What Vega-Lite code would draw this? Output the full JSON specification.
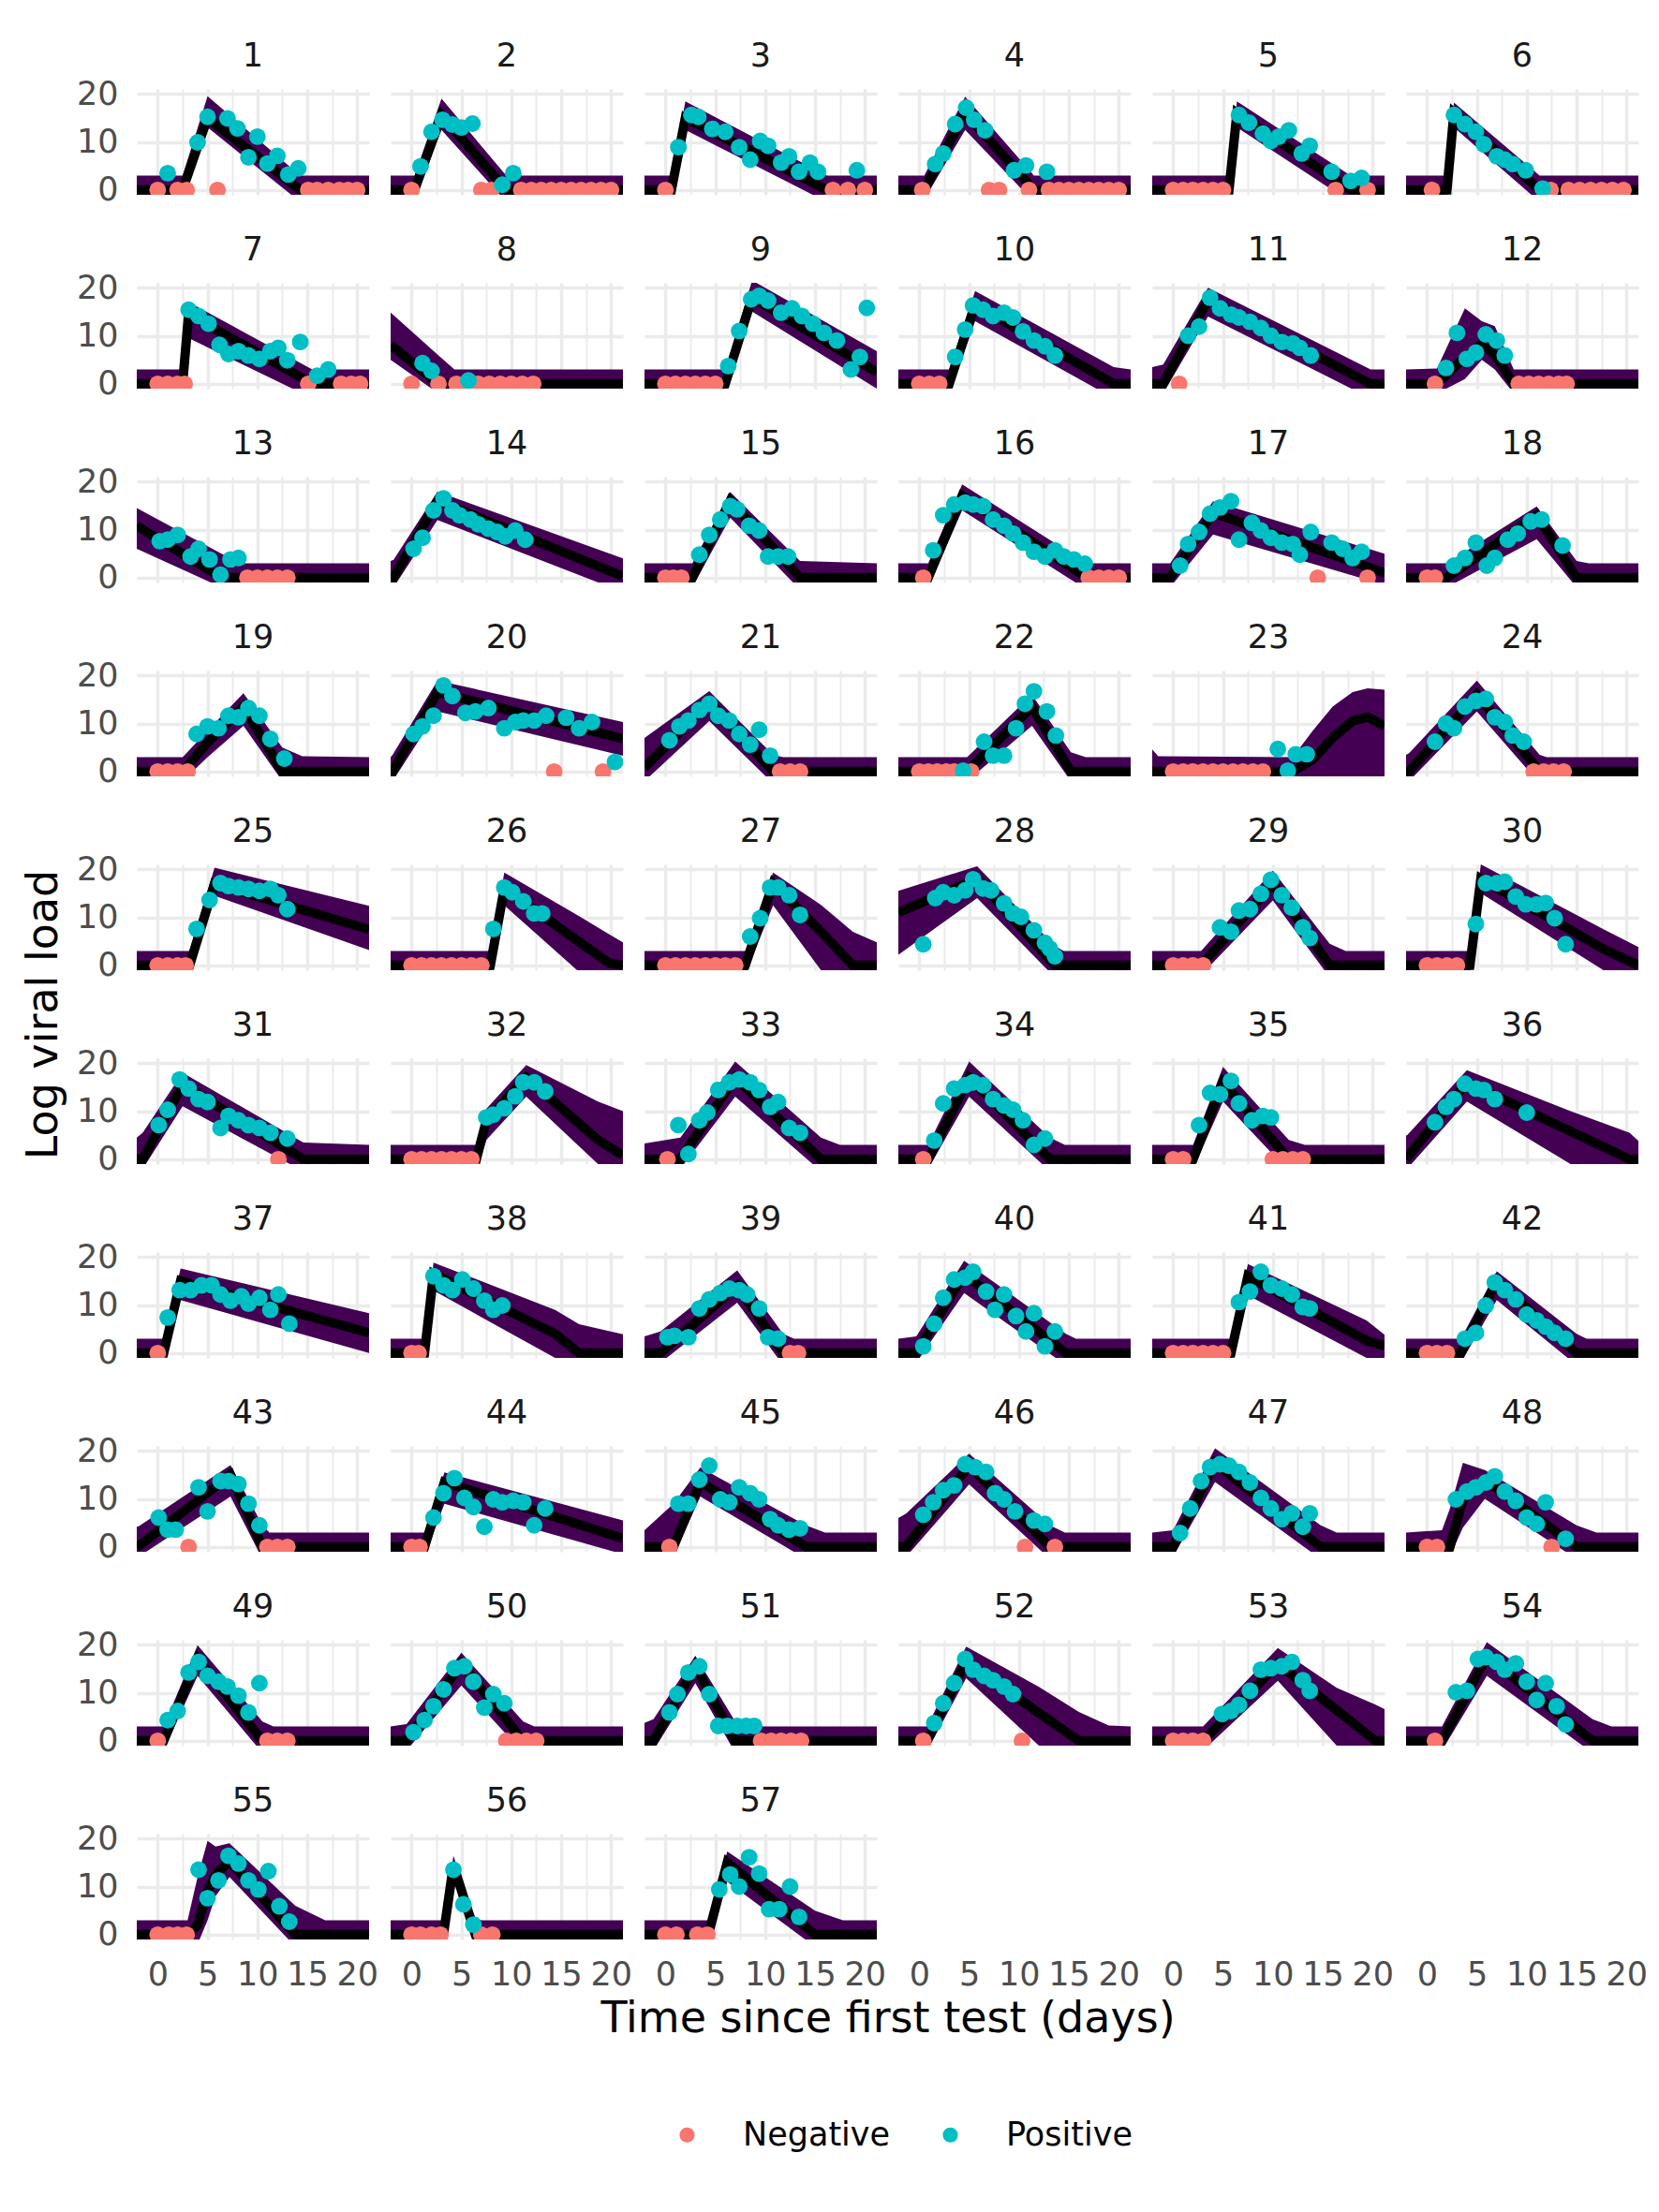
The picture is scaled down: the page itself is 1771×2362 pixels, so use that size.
{
"$schema": "https://vega.github.io/schema/vega-lite/v6.json",
"padding": {"left": 24, "top": 43, "right": 5, "bottom": 5},
"background": "white",
"data": {"values": [
{"p":1,"t":-2.1,"lo":-2,"m":0,"hi":3},{"p":1,"t":2.5,"lo":-2,"m":0,"hi":3},{"p":1,"t":5,"lo":13,"m":15,"hi":19.5},{"p":1,"t":14.3,"lo":-2.5,"m":0,"hi":3},{"p":1,"t":21.2,"lo":-2,"m":0,"hi":3},
{"p":2,"t":-2.1,"lo":-2,"m":0,"hi":3},{"p":2,"t":0.3,"lo":-2,"m":0,"hi":3},{"p":2,"t":3,"lo":12.5,"m":15.5,"hi":19},{"p":2,"t":9.5,"lo":-2.5,"m":0,"hi":3},{"p":2,"t":21.2,"lo":-2,"m":0,"hi":3},
{"p":3,"t":-2.1,"lo":-2,"m":0,"hi":3},{"p":3,"t":0.6,"lo":-2,"m":0,"hi":3},{"p":3,"t":2,"lo":12.5,"m":15,"hi":18.4},{"p":3,"t":16.2,"lo":-2.5,"m":0,"hi":3},{"p":3,"t":21.2,"lo":-2,"m":0,"hi":3},
{"p":4,"t":-2.1,"lo":-2,"m":0,"hi":3},{"p":4,"t":0.5,"lo":-2,"m":0,"hi":3},{"p":4,"t":4.6,"lo":12.5,"m":16,"hi":19.4},{"p":4,"t":11.5,"lo":-2.5,"m":0,"hi":3},{"p":4,"t":21.2,"lo":-2,"m":0,"hi":3},
{"p":5,"t":-2.1,"lo":-2,"m":0,"hi":3},{"p":5,"t":5.6,"lo":-2,"m":0,"hi":3},{"p":5,"t":6.4,"lo":13,"m":16,"hi":18.4},{"p":5,"t":17.8,"lo":-2.5,"m":0,"hi":3},{"p":5,"t":21.2,"lo":-2,"m":0,"hi":3},
{"p":6,"t":-2.1,"lo":-2,"m":0,"hi":3},{"p":6,"t":2,"lo":-2,"m":0,"hi":3},{"p":6,"t":2.7,"lo":13,"m":16,"hi":18.2},{"p":6,"t":11.3,"lo":-2.5,"m":0,"hi":3},{"p":6,"t":21.2,"lo":-2,"m":0,"hi":3},
{"p":7,"t":-2.1,"lo":-2,"m":0,"hi":3},{"p":7,"t":2.5,"lo":-2,"m":0,"hi":3},{"p":7,"t":3.1,"lo":9.5,"m":14.5,"hi":17},{"p":7,"t":15.5,"lo":-3,"m":0,"hi":3},{"p":7,"t":21.2,"lo":-2,"m":0,"hi":3},
{"p":8,"t":-2.1,"lo":5,"m":8.1,"hi":14.8},{"p":8,"t":2.7,"lo":-2,"m":0,"hi":5.9},{"p":8,"t":4.3,"lo":-2,"m":0,"hi":3},{"p":8,"t":21.2,"lo":-2,"m":0,"hi":3},
{"p":9,"t":-2.1,"lo":-2,"m":0,"hi":3},{"p":9,"t":6,"lo":-2,"m":0,"hi":3},{"p":9,"t":8.7,"lo":15,"m":18,"hi":21.5},{"p":9,"t":21.2,"lo":-1,"m":2.4,"hi":6.8},
{"p":10,"t":-2.1,"lo":-2,"m":0,"hi":3},{"p":10,"t":3,"lo":-2,"m":0,"hi":3},{"p":10,"t":5.6,"lo":13,"m":16.5,"hi":19.3},{"p":10,"t":19.5,"lo":-3,"m":0,"hi":3.5},{"p":10,"t":21.2,"lo":-2,"m":0,"hi":3},
{"p":11,"t":-2.1,"lo":-2,"m":0,"hi":3.5},{"p":11,"t":-1,"lo":-2,"m":0,"hi":4},{"p":11,"t":3.5,"lo":14,"m":17.5,"hi":20},{"p":11,"t":19.8,"lo":-3,"m":0,"hi":3},{"p":11,"t":21.2,"lo":-2,"m":0,"hi":3},
{"p":12,"t":-2.1,"lo":-2,"m":0,"hi":3},{"p":12,"t":1,"lo":-2,"m":0,"hi":3.2},{"p":12,"t":3.8,"lo":1,"m":5.5,"hi":15.7},{"p":12,"t":5.5,"lo":5,"m":8.3,"hi":13},{"p":12,"t":6.8,"lo":3,"m":6,"hi":12},{"p":12,"t":8.7,"lo":-2,"m":0,"hi":3},{"p":12,"t":21.2,"lo":-2,"m":0,"hi":3},
{"p":13,"t":-2.1,"lo":6,"m":10.8,"hi":14.5},{"p":13,"t":6.4,"lo":-2,"m":0,"hi":5},{"p":13,"t":8.4,"lo":-2,"m":0,"hi":3},{"p":13,"t":21.2,"lo":-2,"m":0,"hi":3},
{"p":14,"t":-2.1,"lo":-2,"m":0,"hi":3.5},{"p":14,"t":-1.8,"lo":-2,"m":0,"hi":3.7},{"p":14,"t":2.6,"lo":12,"m":16,"hi":17.9},{"p":14,"t":21.2,"lo":-3,"m":0.3,"hi":4},
{"p":15,"t":-2.1,"lo":-2,"m":0,"hi":3},{"p":15,"t":2.7,"lo":-2,"m":0,"hi":3},{"p":15,"t":6.5,"lo":12.5,"m":16,"hi":17.8},{"p":15,"t":13.5,"lo":-2.5,"m":0,"hi":3.5},{"p":15,"t":21.2,"lo":-2,"m":0,"hi":3},
{"p":16,"t":-2.1,"lo":-2,"m":0,"hi":3},{"p":16,"t":0.9,"lo":-2,"m":0,"hi":3},{"p":16,"t":4.3,"lo":14,"m":17,"hi":19.4},{"p":16,"t":16.8,"lo":-2.5,"m":0,"hi":3},{"p":16,"t":21.2,"lo":-2,"m":0,"hi":3},
{"p":17,"t":-2.1,"lo":-2,"m":0,"hi":3},{"p":17,"t":-0.3,"lo":-2,"m":0,"hi":3},{"p":17,"t":4,"lo":9,"m":13.5,"hi":15.9},{"p":17,"t":21.2,"lo":-1.5,"m":1,"hi":5},
{"p":18,"t":-2.1,"lo":-2,"m":0,"hi":3},{"p":18,"t":2,"lo":-2,"m":0,"hi":3},{"p":18,"t":11,"lo":8,"m":13,"hi":14.8},{"p":18,"t":15,"lo":-2,"m":0,"hi":3.5},{"p":18,"t":16.2,"lo":-2,"m":0,"hi":3},{"p":18,"t":21.2,"lo":-2,"m":0,"hi":3},
{"p":19,"t":-2.1,"lo":-2,"m":0,"hi":3},{"p":19,"t":2.5,"lo":-2,"m":0,"hi":3},{"p":19,"t":5,"lo":3,"m":6,"hi":8.5},{"p":19,"t":8.6,"lo":9.5,"m":13.5,"hi":16.3},{"p":19,"t":12.5,"lo":-2,"m":0,"hi":5},{"p":19,"t":14.5,"lo":-2,"m":0,"hi":3.2},{"p":19,"t":21.2,"lo":-2,"m":0,"hi":3},
{"p":20,"t":-2.1,"lo":-2,"m":0,"hi":3},{"p":20,"t":-1.9,"lo":-2,"m":0,"hi":3.5},{"p":20,"t":2.6,"lo":12.5,"m":16.5,"hi":18.9},{"p":20,"t":21.2,"lo":3.3,"m":6.8,"hi":10.3},
{"p":21,"t":-2.1,"lo":-2,"m":0.8,"hi":7},{"p":21,"t":4.4,"lo":10.5,"m":14.5,"hi":16.7},{"p":21,"t":10.8,"lo":-2.5,"m":0,"hi":3.5},{"p":21,"t":11.8,"lo":-2,"m":0,"hi":3},{"p":21,"t":21.2,"lo":-2,"m":0,"hi":3},
{"p":22,"t":-2.1,"lo":-2,"m":0,"hi":3},{"p":22,"t":4.8,"lo":-2,"m":0,"hi":3},{"p":22,"t":11.3,"lo":9.5,"m":13.5,"hi":16},{"p":22,"t":15.2,"lo":-2,"m":0,"hi":4},{"p":22,"t":16.7,"lo":-2,"m":0,"hi":3},{"p":22,"t":21.2,"lo":-2,"m":0,"hi":3},
{"p":23,"t":-2.1,"lo":-2,"m":0,"hi":4.6},{"p":23,"t":-1.5,"lo":-2,"m":0,"hi":3.2},{"p":23,"t":12,"lo":-2,"m":0,"hi":3},{"p":23,"t":14,"lo":-2,"m":2.5,"hi":8.5},{"p":23,"t":16,"lo":-2,"m":7,"hi":13.5},{"p":23,"t":18,"lo":-2,"m":10.5,"hi":16.5},{"p":23,"t":19.5,"lo":-2,"m":11.3,"hi":17.3},{"p":23,"t":21.2,"lo":-2,"m":9.5,"hi":17},
{"p":24,"t":-2.1,"lo":-2,"m":0,"hi":3.5},{"p":24,"t":-1.8,"lo":-2,"m":0,"hi":3.8},{"p":24,"t":5,"lo":12.5,"m":16,"hi":18.9},{"p":24,"t":11.3,"lo":-2.5,"m":0,"hi":3.5},{"p":24,"t":12,"lo":-2,"m":0,"hi":3},{"p":24,"t":21.2,"lo":-2,"m":0,"hi":3},
{"p":25,"t":-2.1,"lo":-2,"m":0,"hi":3},{"p":25,"t":3.2,"lo":-2,"m":0,"hi":3},{"p":25,"t":5.7,"lo":14.5,"m":17,"hi":20.3},{"p":25,"t":21.2,"lo":3.2,"m":7.5,"hi":12.4},
{"p":26,"t":-2.1,"lo":-2,"m":0,"hi":3},{"p":26,"t":7.9,"lo":-2,"m":0,"hi":3},{"p":26,"t":9.3,"lo":12.5,"m":16,"hi":19.3},{"p":26,"t":16.6,"lo":-1,"m":5.2,"hi":10.5},{"p":26,"t":19.8,"lo":-3,"m":0.5,"hi":6.5},{"p":26,"t":21.2,"lo":-3,"m":0,"hi":4.8},
{"p":27,"t":-2.1,"lo":-2,"m":0,"hi":3},{"p":27,"t":8,"lo":-2,"m":0,"hi":3},{"p":27,"t":10.8,"lo":12.5,"m":17,"hi":19.3},{"p":27,"t":15.6,"lo":-1,"m":7,"hi":12.6},{"p":27,"t":18.8,"lo":-3,"m":0,"hi":7},{"p":27,"t":21.2,"lo":-3,"m":0,"hi":4.8},
{"p":28,"t":-2.1,"lo":2.2,"m":11,"hi":15.5},{"p":28,"t":5.8,"lo":14,"m":18,"hi":20.6},{"p":28,"t":13.6,"lo":-2.5,"m":0,"hi":4},{"p":28,"t":14.5,"lo":-2,"m":0,"hi":3},{"p":28,"t":21.2,"lo":-2,"m":0,"hi":3},
{"p":29,"t":-2.1,"lo":-2,"m":0,"hi":3},{"p":29,"t":2.8,"lo":-2,"m":0,"hi":3},{"p":29,"t":10,"lo":13.5,"m":17,"hi":19.7},{"p":29,"t":15.7,"lo":-2.5,"m":0,"hi":4.5},{"p":29,"t":17.3,"lo":-2,"m":0,"hi":3},{"p":29,"t":21.2,"lo":-2,"m":0,"hi":3},
{"p":30,"t":-2.1,"lo":-2,"m":0,"hi":3},{"p":30,"t":4.3,"lo":-2,"m":0,"hi":3},{"p":30,"t":5.4,"lo":15,"m":18,"hi":21},{"p":30,"t":17.7,"lo":-1,"m":3.4,"hi":7.5},{"p":30,"t":21.2,"lo":-3,"m":0,"hi":3.8},
{"p":31,"t":-2.1,"lo":-2,"m":0,"hi":4.5},{"p":31,"t":-1.5,"lo":-2,"m":0,"hi":5.5},{"p":31,"t":2.5,"lo":11,"m":15.5,"hi":18},{"p":31,"t":14.6,"lo":-2.5,"m":0,"hi":3.5},{"p":31,"t":21.2,"lo":-2,"m":0,"hi":3},
{"p":32,"t":-2.1,"lo":-2,"m":0,"hi":3},{"p":32,"t":6.5,"lo":-2,"m":0,"hi":3},{"p":32,"t":7.5,"lo":4,"m":8,"hi":10.5},{"p":32,"t":11.5,"lo":13,"m":17,"hi":19.6},{"p":32,"t":18.7,"lo":-1,"m":4,"hi":12},{"p":32,"t":21.2,"lo":-3,"m":0.8,"hi":10},
{"p":33,"t":-2.1,"lo":-2,"m":0,"hi":3.3},{"p":33,"t":1.5,"lo":-2,"m":0,"hi":4.5},{"p":33,"t":7,"lo":13,"m":17,"hi":20.3},{"p":33,"t":15.6,"lo":-2.5,"m":0,"hi":4.5},{"p":33,"t":17.5,"lo":-2,"m":0,"hi":3},{"p":33,"t":21.2,"lo":-2,"m":0,"hi":3},
{"p":34,"t":-2.1,"lo":-2,"m":0,"hi":3},{"p":34,"t":0.9,"lo":-2,"m":0,"hi":3},{"p":34,"t":5,"lo":13,"m":17,"hi":20.3},{"p":34,"t":13.1,"lo":-2.5,"m":0,"hi":4.5},{"p":34,"t":14.6,"lo":-2,"m":0,"hi":3},{"p":34,"t":21.2,"lo":-2,"m":0,"hi":3},
{"p":35,"t":-2.1,"lo":-2,"m":0,"hi":3},{"p":35,"t":2,"lo":-2,"m":0,"hi":3},{"p":35,"t":5,"lo":12,"m":16,"hi":19.2},{"p":35,"t":11.6,"lo":-2.5,"m":0,"hi":4},{"p":35,"t":13.2,"lo":-2,"m":0,"hi":3},{"p":35,"t":21.2,"lo":-2,"m":0,"hi":3},
{"p":36,"t":-2.1,"lo":-2,"m":0,"hi":5},{"p":36,"t":-2,"lo":-2,"m":0.3,"hi":5},{"p":36,"t":4,"lo":12,"m":16,"hi":18.5},{"p":36,"t":14.4,"lo":-1,"m":5.8,"hi":10},{"p":36,"t":20.3,"lo":-3,"m":0,"hi":5.5},{"p":36,"t":21.2,"lo":-3,"m":0,"hi":3.8},
{"p":37,"t":-2.1,"lo":-2,"m":0,"hi":3},{"p":37,"t":0.6,"lo":-2,"m":0,"hi":3},{"p":37,"t":2.3,"lo":11,"m":15,"hi":17.6},{"p":37,"t":21.2,"lo":0,"m":4.2,"hi":8.3},
{"p":38,"t":-2.1,"lo":-2,"m":0,"hi":3},{"p":38,"t":1.3,"lo":-2,"m":0,"hi":3},{"p":38,"t":2.2,"lo":13,"m":16.5,"hi":18.8},{"p":38,"t":14.4,"lo":-1,"m":4,"hi":9},{"p":38,"t":16.8,"lo":-2,"m":0,"hi":6},{"p":38,"t":21.2,"lo":-2,"m":0,"hi":3.9},
{"p":39,"t":-2.1,"lo":-2,"m":0,"hi":3.5},{"p":39,"t":-0.5,"lo":-2,"m":0,"hi":4.5},{"p":39,"t":7.2,"lo":10.5,"m":14,"hi":17.2},{"p":39,"t":11.8,"lo":-2.5,"m":0,"hi":4},{"p":39,"t":12.9,"lo":-2,"m":0,"hi":3},{"p":39,"t":21.2,"lo":-2,"m":0,"hi":3},
{"p":40,"t":-2.1,"lo":-2,"m":0,"hi":3},{"p":40,"t":-0.3,"lo":-2,"m":0,"hi":3.5},{"p":40,"t":4.5,"lo":12.5,"m":16.5,"hi":19.2},{"p":40,"t":14.7,"lo":-2.5,"m":0,"hi":4},{"p":40,"t":15.7,"lo":-2,"m":0,"hi":3},{"p":40,"t":21.2,"lo":-2,"m":0,"hi":3},
{"p":41,"t":-2.1,"lo":-2,"m":0,"hi":3},{"p":41,"t":5.8,"lo":-2,"m":0,"hi":3},{"p":41,"t":7.5,"lo":12,"m":16,"hi":18.5},{"p":41,"t":19.4,"lo":-1,"m":2.6,"hi":6.8},{"p":41,"t":21.2,"lo":-2,"m":1.5,"hi":3.8},
{"p":42,"t":-2.1,"lo":-2,"m":0,"hi":3},{"p":42,"t":3.4,"lo":-2,"m":0,"hi":3},{"p":42,"t":7,"lo":11,"m":15,"hi":17},{"p":42,"t":15,"lo":-2.5,"m":0,"hi":4},{"p":42,"t":16,"lo":-2,"m":0,"hi":3},{"p":42,"t":21.2,"lo":-2,"m":0,"hi":3},
{"p":43,"t":-2.1,"lo":-2,"m":0,"hi":4.2},{"p":43,"t":-1.9,"lo":-2,"m":0.2,"hi":4.3},{"p":43,"t":7.3,"lo":10.5,"m":15,"hi":17},{"p":43,"t":10.5,"lo":-2.5,"m":0,"hi":4.5},{"p":43,"t":11.2,"lo":-2,"m":0,"hi":3},{"p":43,"t":21.2,"lo":-2,"m":0,"hi":3},
{"p":44,"t":-2.1,"lo":-2,"m":0,"hi":3},{"p":44,"t":1.3,"lo":-2,"m":0,"hi":3},{"p":44,"t":3.3,"lo":9,"m":13.5,"hi":15.5},{"p":44,"t":21.2,"lo":-1.5,"m":1.8,"hi":5.5},
{"p":45,"t":-2.1,"lo":-2,"m":0,"hi":3.5},{"p":45,"t":0.8,"lo":-2,"m":0,"hi":9},{"p":45,"t":3.5,"lo":10.5,"m":13.5,"hi":16.5},{"p":45,"t":14.1,"lo":-2.5,"m":0,"hi":4.5},{"p":45,"t":16,"lo":-2,"m":0,"hi":3},{"p":45,"t":21.2,"lo":-2,"m":0,"hi":3},
{"p":46,"t":-2.1,"lo":-2,"m":0,"hi":6},{"p":46,"t":-1.3,"lo":-2,"m":0.1,"hi":7},{"p":46,"t":5,"lo":13,"m":17,"hi":19.4},{"p":46,"t":13.1,"lo":-2.5,"m":0,"hi":4.5},{"p":46,"t":14.6,"lo":-2,"m":0,"hi":3},{"p":46,"t":21.2,"lo":-2,"m":0,"hi":3},
{"p":47,"t":-2.1,"lo":-2,"m":0,"hi":3},{"p":47,"t":0,"lo":-2,"m":0,"hi":3.5},{"p":47,"t":4.2,"lo":13.5,"m":17.5,"hi":20.5},{"p":47,"t":14.8,"lo":-2.5,"m":0,"hi":4.5},{"p":47,"t":16.4,"lo":-2,"m":0,"hi":3},{"p":47,"t":21.2,"lo":-2,"m":0,"hi":3},
{"p":48,"t":-2.1,"lo":-2,"m":0,"hi":3},{"p":48,"t":1.5,"lo":-2,"m":0,"hi":3.5},{"p":48,"t":2.3,"lo":-2,"m":0,"hi":8},{"p":48,"t":3.6,"lo":4,"m":10,"hi":17.5},{"p":48,"t":5.8,"lo":10,"m":14,"hi":16},{"p":48,"t":15,"lo":-2.5,"m":0,"hi":4.5},{"p":48,"t":17,"lo":-2,"m":0,"hi":3},{"p":48,"t":21.2,"lo":-2,"m":0,"hi":3},
{"p":49,"t":-2.1,"lo":-2,"m":0,"hi":3},{"p":49,"t":0.6,"lo":-2,"m":0,"hi":3},{"p":49,"t":4,"lo":13.5,"m":17,"hi":19.9},{"p":49,"t":10.5,"lo":-2.5,"m":0,"hi":4},{"p":49,"t":11.6,"lo":-2,"m":0,"hi":3},{"p":49,"t":21.2,"lo":-2,"m":0,"hi":3},
{"p":50,"t":-2.1,"lo":-2,"m":0,"hi":3},{"p":50,"t":-0.5,"lo":-2,"m":0,"hi":3.5},{"p":50,"t":5,"lo":11.5,"m":16,"hi":18.3},{"p":50,"t":11.2,"lo":-2.5,"m":0,"hi":4},{"p":50,"t":12.3,"lo":-2,"m":0,"hi":3},{"p":50,"t":21.2,"lo":-2,"m":0,"hi":3},
{"p":51,"t":-2.1,"lo":-2,"m":0,"hi":3.7},{"p":51,"t":-1.2,"lo":-2,"m":0,"hi":4.5},{"p":51,"t":3,"lo":12,"m":15.5,"hi":17.7},{"p":51,"t":7,"lo":-2.5,"m":0,"hi":4},{"p":51,"t":8,"lo":-2,"m":0,"hi":3},{"p":51,"t":21.2,"lo":-2,"m":0,"hi":3},
{"p":52,"t":-2.1,"lo":-2,"m":0,"hi":3},{"p":52,"t":0.8,"lo":-2,"m":0,"hi":3},{"p":52,"t":4.7,"lo":13,"m":16.5,"hi":19.6},{"p":52,"t":12,"lo":-1,"m":5.8,"hi":11.2},{"p":52,"t":16,"lo":-2.5,"m":0,"hi":6},{"p":52,"t":19,"lo":-2,"m":0,"hi":3.2},{"p":52,"t":21.2,"lo":-2,"m":0,"hi":3},
{"p":53,"t":-2.1,"lo":-2,"m":0,"hi":3},{"p":53,"t":3,"lo":-2,"m":0,"hi":3},{"p":53,"t":10.5,"lo":12.5,"m":16,"hi":19.3},{"p":53,"t":16.4,"lo":-1,"m":6.4,"hi":11},{"p":53,"t":20.3,"lo":-2.5,"m":0,"hi":7.5},{"p":53,"t":21.2,"lo":-2.5,"m":0,"hi":6.6},
{"p":54,"t":-2.1,"lo":-2,"m":0,"hi":3},{"p":54,"t":1.5,"lo":-2,"m":0,"hi":3},{"p":54,"t":6,"lo":13.5,"m":17.5,"hi":20.5},{"p":54,"t":16.6,"lo":-2.5,"m":0,"hi":4.5},{"p":54,"t":18.5,"lo":-2,"m":0,"hi":3},{"p":54,"t":21.2,"lo":-2,"m":0,"hi":3},
{"p":55,"t":-2.1,"lo":-2,"m":0,"hi":3},{"p":55,"t":3,"lo":-2,"m":0,"hi":3},{"p":55,"t":4,"lo":-2,"m":2,"hi":12},{"p":55,"t":5,"lo":3,"m":9,"hi":19.5},{"p":55,"t":5.8,"lo":8,"m":12.5,"hi":18.3},{"p":55,"t":7.2,"lo":12,"m":15.3,"hi":19},{"p":55,"t":13.8,"lo":-2.5,"m":0,"hi":6},{"p":55,"t":16.8,"lo":-2,"m":0,"hi":3},{"p":55,"t":21.2,"lo":-2,"m":0,"hi":3},
{"p":56,"t":-2.1,"lo":-2,"m":0,"hi":3},{"p":56,"t":3.2,"lo":-2,"m":0,"hi":3},{"p":56,"t":4.2,"lo":12,"m":14.5,"hi":16.4},{"p":56,"t":6.4,"lo":-2,"m":0,"hi":3.5},{"p":56,"t":7,"lo":-2,"m":0,"hi":3},{"p":56,"t":21.2,"lo":-2,"m":0,"hi":3},
{"p":57,"t":-2.1,"lo":-2,"m":0,"hi":3},{"p":57,"t":4.3,"lo":-2,"m":0,"hi":3},{"p":57,"t":6.2,"lo":11,"m":15,"hi":17.3},{"p":57,"t":15,"lo":-2.5,"m":0,"hi":5},{"p":57,"t":17.8,"lo":-2,"m":0,"hi":3},{"p":57,"t":21.2,"lo":-2,"m":0,"hi":3},

{"p":1,"t":0,"v":0,"r":"Negative"},{"p":1,"t":2,"v":0,"r":"Negative"},{"p":1,"t":2.9,"v":0,"r":"Negative"},{"p":1,"t":6,"v":0,"r":"Negative"},{"p":1,"t":15.1,"v":0,"r":"Negative"},{"p":1,"t":16,"v":0,"r":"Negative"},{"p":1,"t":17.1,"v":0,"r":"Negative"},{"p":1,"t":18.2,"v":0,"r":"Negative"},{"p":1,"t":19.1,"v":0,"r":"Negative"},{"p":1,"t":20,"v":0,"r":"Negative"},
{"p":1,"t":1,"v":3.5,"r":"Positive"},{"p":1,"t":4,"v":9.9,"r":"Positive"},{"p":1,"t":5,"v":15.2,"r":"Positive"},{"p":1,"t":7,"v":14.9,"r":"Positive"},{"p":1,"t":8,"v":12.8,"r":"Positive"},{"p":1,"t":9.1,"v":6.8,"r":"Positive"},{"p":1,"t":10,"v":11.1,"r":"Positive"},{"p":1,"t":11,"v":5.5,"r":"Positive"},{"p":1,"t":12,"v":7.1,"r":"Positive"},{"p":1,"t":13.1,"v":3.2,"r":"Positive"},{"p":1,"t":14.1,"v":4.5,"r":"Positive"},
{"p":2,"t":0,"v":0,"r":"Negative"},{"p":2,"t":7,"v":0,"r":"Negative"},{"p":2,"t":8,"v":0,"r":"Negative"},{"p":2,"t":11,"v":0,"r":"Negative"},{"p":2,"t":12,"v":0,"r":"Negative"},{"p":2,"t":13,"v":0,"r":"Negative"},{"p":2,"t":14,"v":0,"r":"Negative"},{"p":2,"t":15,"v":0,"r":"Negative"},{"p":2,"t":16,"v":0,"r":"Negative"},{"p":2,"t":17,"v":0,"r":"Negative"},{"p":2,"t":18,"v":0,"r":"Negative"},{"p":2,"t":19,"v":0,"r":"Negative"},{"p":2,"t":20,"v":0,"r":"Negative"},
{"p":2,"t":0.9,"v":4.9,"r":"Positive"},{"p":2,"t":2,"v":12.1,"r":"Positive"},{"p":2,"t":3.1,"v":14.6,"r":"Positive"},{"p":2,"t":4.1,"v":13.6,"r":"Positive"},{"p":2,"t":5,"v":13,"r":"Positive"},{"p":2,"t":6.1,"v":13.8,"r":"Positive"},{"p":2,"t":9.1,"v":1.1,"r":"Positive"},{"p":2,"t":10.2,"v":3.5,"r":"Positive"},
{"p":3,"t":0,"v":0,"r":"Negative"},{"p":3,"t":16.8,"v":0,"r":"Negative"},{"p":3,"t":18.3,"v":0,"r":"Negative"},{"p":3,"t":20,"v":0,"r":"Negative"},
{"p":3,"t":1.3,"v":8.9,"r":"Positive"},{"p":3,"t":2.6,"v":15.6,"r":"Positive"},{"p":3,"t":3.3,"v":15.2,"r":"Positive"},{"p":3,"t":4.7,"v":12.7,"r":"Positive"},{"p":3,"t":6,"v":12.1,"r":"Positive"},{"p":3,"t":7.4,"v":8.9,"r":"Positive"},{"p":3,"t":8.5,"v":6.3,"r":"Positive"},{"p":3,"t":9.5,"v":10.2,"r":"Positive"},{"p":3,"t":10.3,"v":9.2,"r":"Positive"},{"p":3,"t":11.6,"v":5.7,"r":"Positive"},{"p":3,"t":12.4,"v":7,"r":"Positive"},{"p":3,"t":13.4,"v":3.8,"r":"Positive"},{"p":3,"t":14.5,"v":5.7,"r":"Positive"},{"p":3,"t":15.3,"v":3.8,"r":"Positive"},{"p":3,"t":19.2,"v":4.1,"r":"Positive"},
{"p":4,"t":0.3,"v":0,"r":"Negative"},{"p":4,"t":7,"v":0,"r":"Negative"},{"p":4,"t":8,"v":0,"r":"Negative"},{"p":4,"t":11,"v":0,"r":"Negative"},{"p":4,"t":13,"v":0,"r":"Negative"},{"p":4,"t":14,"v":0,"r":"Negative"},{"p":4,"t":15,"v":0,"r":"Negative"},{"p":4,"t":16,"v":0,"r":"Negative"},{"p":4,"t":17,"v":0,"r":"Negative"},{"p":4,"t":18,"v":0,"r":"Negative"},{"p":4,"t":19,"v":0,"r":"Negative"},{"p":4,"t":20,"v":0,"r":"Negative"},
{"p":4,"t":1.6,"v":5.4,"r":"Positive"},{"p":4,"t":2.4,"v":7.6,"r":"Positive"},{"p":4,"t":3.6,"v":13.7,"r":"Positive"},{"p":4,"t":4.7,"v":17.1,"r":"Positive"},{"p":4,"t":5.5,"v":14.6,"r":"Positive"},{"p":4,"t":6.6,"v":12.4,"r":"Positive"},{"p":4,"t":9.5,"v":4.1,"r":"Positive"},{"p":4,"t":10.7,"v":5.1,"r":"Positive"},{"p":4,"t":12.8,"v":3.8,"r":"Positive"},
{"p":5,"t":0,"v":0,"r":"Negative"},{"p":5,"t":1,"v":0,"r":"Negative"},{"p":5,"t":2,"v":0,"r":"Negative"},{"p":5,"t":3,"v":0,"r":"Negative"},{"p":5,"t":4,"v":0,"r":"Negative"},{"p":5,"t":5,"v":0,"r":"Negative"},{"p":5,"t":16.3,"v":0,"r":"Negative"},{"p":5,"t":19.5,"v":0,"r":"Negative"},
{"p":5,"t":6.6,"v":15.6,"r":"Positive"},{"p":5,"t":7.6,"v":14,"r":"Positive"},{"p":5,"t":9,"v":11.7,"r":"Positive"},{"p":5,"t":9.8,"v":10.2,"r":"Positive"},{"p":5,"t":10.6,"v":11.1,"r":"Positive"},{"p":5,"t":11.6,"v":12.4,"r":"Positive"},{"p":5,"t":12.9,"v":7.6,"r":"Positive"},{"p":5,"t":13.7,"v":9.2,"r":"Positive"},{"p":5,"t":15.9,"v":3.8,"r":"Positive"},{"p":5,"t":17.8,"v":1.9,"r":"Positive"},{"p":5,"t":18.9,"v":2.5,"r":"Positive"},
{"p":6,"t":0.5,"v":0,"r":"Negative"},{"p":6,"t":12.4,"v":0,"r":"Negative"},{"p":6,"t":14.2,"v":0,"r":"Negative"},{"p":6,"t":15.3,"v":0,"r":"Negative"},{"p":6,"t":16.4,"v":0,"r":"Negative"},{"p":6,"t":17.5,"v":0,"r":"Negative"},{"p":6,"t":18.6,"v":0,"r":"Negative"},{"p":6,"t":19.7,"v":0,"r":"Negative"},
{"p":6,"t":2.7,"v":15.6,"r":"Positive"},{"p":6,"t":3.8,"v":13.7,"r":"Positive"},{"p":6,"t":4.9,"v":12.1,"r":"Positive"},{"p":6,"t":5.7,"v":9.5,"r":"Positive"},{"p":6,"t":7,"v":7,"r":"Positive"},{"p":6,"t":7.8,"v":6.3,"r":"Positive"},{"p":6,"t":8.6,"v":5.4,"r":"Positive"},{"p":6,"t":9.9,"v":4.1,"r":"Positive"},{"p":6,"t":11.6,"v":0.3,"r":"Positive"},
{"p":7,"t":0,"v":0,"r":"Negative"},{"p":7,"t":1,"v":0,"r":"Negative"},{"p":7,"t":2,"v":0,"r":"Negative"},{"p":7,"t":2.7,"v":0,"r":"Negative"},{"p":7,"t":15.1,"v":0,"r":"Negative"},{"p":7,"t":18.4,"v":0,"r":"Negative"},{"p":7,"t":19.4,"v":0,"r":"Negative"},{"p":7,"t":20.3,"v":0,"r":"Negative"},
{"p":7,"t":3.1,"v":15.4,"r":"Positive"},{"p":7,"t":4.1,"v":14.1,"r":"Positive"},{"p":7,"t":5.1,"v":12.5,"r":"Positive"},{"p":7,"t":6.2,"v":8.1,"r":"Positive"},{"p":7,"t":7.1,"v":6.2,"r":"Positive"},{"p":7,"t":8.1,"v":6.8,"r":"Positive"},{"p":7,"t":9.1,"v":5.9,"r":"Positive"},{"p":7,"t":10.2,"v":5.2,"r":"Positive"},{"p":7,"t":11.3,"v":6.8,"r":"Positive"},{"p":7,"t":12.1,"v":7.5,"r":"Positive"},{"p":7,"t":13,"v":4.9,"r":"Positive"},{"p":7,"t":14.3,"v":8.7,"r":"Positive"},{"p":7,"t":16,"v":1.7,"r":"Positive"},{"p":7,"t":17.1,"v":3,"r":"Positive"},
{"p":8,"t":0,"v":0,"r":"Negative"},{"p":8,"t":2.7,"v":0,"r":"Negative"},{"p":8,"t":4.5,"v":0,"r":"Negative"},{"p":8,"t":5.6,"v":0,"r":"Negative"},{"p":8,"t":6.7,"v":0,"r":"Negative"},{"p":8,"t":7.8,"v":0,"r":"Negative"},{"p":8,"t":8.9,"v":0,"r":"Negative"},{"p":8,"t":10,"v":0,"r":"Negative"},{"p":8,"t":11.1,"v":0,"r":"Negative"},{"p":8,"t":12.2,"v":0,"r":"Negative"},
{"p":8,"t":1.1,"v":4.3,"r":"Positive"},{"p":8,"t":2,"v":2.7,"r":"Positive"},{"p":8,"t":5.7,"v":0.7,"r":"Positive"},
{"p":9,"t":0,"v":0,"r":"Negative"},{"p":9,"t":1,"v":0,"r":"Negative"},{"p":9,"t":2,"v":0,"r":"Negative"},{"p":9,"t":3,"v":0,"r":"Negative"},{"p":9,"t":4,"v":0,"r":"Negative"},{"p":9,"t":5,"v":0,"r":"Negative"},
{"p":9,"t":6.3,"v":3.7,"r":"Positive"},{"p":9,"t":7.4,"v":11,"r":"Positive"},{"p":9,"t":8.6,"v":17.6,"r":"Positive"},{"p":9,"t":9.4,"v":18.3,"r":"Positive"},{"p":9,"t":10.3,"v":17.3,"r":"Positive"},{"p":9,"t":11.6,"v":14.8,"r":"Positive"},{"p":9,"t":12.7,"v":15.7,"r":"Positive"},{"p":9,"t":13.7,"v":14.1,"r":"Positive"},{"p":9,"t":14.8,"v":12.5,"r":"Positive"},{"p":9,"t":15.9,"v":10.6,"r":"Positive"},{"p":9,"t":17.2,"v":9,"r":"Positive"},{"p":9,"t":18.6,"v":3,"r":"Positive"},{"p":9,"t":19.5,"v":5.6,"r":"Positive"},{"p":9,"t":20.2,"v":15.8,"r":"Positive"},
{"p":10,"t":0,"v":0,"r":"Negative"},{"p":10,"t":1,"v":0,"r":"Negative"},{"p":10,"t":2,"v":0,"r":"Negative"},
{"p":10,"t":3.6,"v":5.6,"r":"Positive"},{"p":10,"t":4.6,"v":11.3,"r":"Positive"},{"p":10,"t":5.4,"v":16.3,"r":"Positive"},{"p":10,"t":6.4,"v":15.4,"r":"Positive"},{"p":10,"t":7.4,"v":14.1,"r":"Positive"},{"p":10,"t":8.5,"v":14.8,"r":"Positive"},{"p":10,"t":9.4,"v":13.8,"r":"Positive"},{"p":10,"t":10.4,"v":10.9,"r":"Positive"},{"p":10,"t":11.5,"v":9,"r":"Positive"},{"p":10,"t":12.6,"v":7.8,"r":"Positive"},{"p":10,"t":13.6,"v":5.9,"r":"Positive"},
{"p":11,"t":0.6,"v":0,"r":"Negative"},
{"p":11,"t":1.5,"v":10,"r":"Positive"},{"p":11,"t":2.6,"v":11.9,"r":"Positive"},{"p":11,"t":3.7,"v":17.9,"r":"Positive"},{"p":11,"t":4.7,"v":15.7,"r":"Positive"},{"p":11,"t":5.8,"v":14.4,"r":"Positive"},{"p":11,"t":6.6,"v":13.8,"r":"Positive"},{"p":11,"t":7.7,"v":12.9,"r":"Positive"},{"p":11,"t":8.8,"v":11.6,"r":"Positive"},{"p":11,"t":9.8,"v":10,"r":"Positive"},{"p":11,"t":10.9,"v":8.7,"r":"Positive"},{"p":11,"t":12,"v":8.4,"r":"Positive"},{"p":11,"t":12.7,"v":7.5,"r":"Positive"},{"p":11,"t":13.8,"v":5.9,"r":"Positive"},
{"p":12,"t":0.8,"v":0,"r":"Negative"},{"p":12,"t":9.2,"v":0,"r":"Negative"},{"p":12,"t":10.2,"v":0,"r":"Negative"},{"p":12,"t":11.2,"v":0,"r":"Negative"},{"p":12,"t":12.2,"v":0,"r":"Negative"},{"p":12,"t":13.2,"v":0,"r":"Negative"},{"p":12,"t":14,"v":0,"r":"Negative"},
{"p":12,"t":1.9,"v":3.3,"r":"Positive"},{"p":12,"t":3,"v":10.6,"r":"Positive"},{"p":12,"t":4,"v":5.2,"r":"Positive"},{"p":12,"t":4.9,"v":6.5,"r":"Positive"},{"p":12,"t":5.9,"v":10.3,"r":"Positive"},{"p":12,"t":7,"v":9,"r":"Positive"},{"p":12,"t":7.8,"v":5.9,"r":"Positive"},
{"p":13,"t":9,"v":0,"r":"Negative"},{"p":13,"t":10,"v":0,"r":"Negative"},{"p":13,"t":11,"v":0,"r":"Negative"},{"p":13,"t":12,"v":0,"r":"Negative"},{"p":13,"t":13,"v":0,"r":"Negative"},
{"p":13,"t":0.2,"v":7.6,"r":"Positive"},{"p":13,"t":1,"v":7.9,"r":"Positive"},{"p":13,"t":2,"v":8.9,"r":"Positive"},{"p":13,"t":3.3,"v":4.4,"r":"Positive"},{"p":13,"t":4.1,"v":6,"r":"Positive"},{"p":13,"t":5.2,"v":3.8,"r":"Positive"},{"p":13,"t":6.3,"v":0.6,"r":"Positive"},{"p":13,"t":7.3,"v":3.8,"r":"Positive"},{"p":13,"t":8.1,"v":4.1,"r":"Positive"},
{"p":14,"t":0.2,"v":6,"r":"Positive"},{"p":14,"t":1.1,"v":8.3,"r":"Positive"},{"p":14,"t":2.2,"v":14,"r":"Positive"},{"p":14,"t":3.2,"v":16.5,"r":"Positive"},{"p":14,"t":4.1,"v":14,"r":"Positive"},{"p":14,"t":4.8,"v":13,"r":"Positive"},{"p":14,"t":5.9,"v":12.1,"r":"Positive"},{"p":14,"t":6.7,"v":11.1,"r":"Positive"},{"p":14,"t":7.7,"v":10.2,"r":"Positive"},{"p":14,"t":8.6,"v":9.5,"r":"Positive"},{"p":14,"t":9.4,"v":8.6,"r":"Positive"},{"p":14,"t":10.4,"v":9.8,"r":"Positive"},{"p":14,"t":11.4,"v":7.9,"r":"Positive"},
{"p":15,"t":0,"v":0,"r":"Negative"},{"p":15,"t":0.8,"v":0,"r":"Negative"},{"p":15,"t":1.6,"v":0,"r":"Negative"},
{"p":15,"t":3.4,"v":4.8,"r":"Positive"},{"p":15,"t":4.4,"v":8.9,"r":"Positive"},{"p":15,"t":5.5,"v":12.1,"r":"Positive"},{"p":15,"t":6.5,"v":14.9,"r":"Positive"},{"p":15,"t":7.2,"v":14.2,"r":"Positive"},{"p":15,"t":8.4,"v":10.8,"r":"Positive"},{"p":15,"t":9.4,"v":9.8,"r":"Positive"},{"p":15,"t":10.3,"v":4.4,"r":"Positive"},{"p":15,"t":11.3,"v":4.4,"r":"Positive"},{"p":15,"t":12.3,"v":4.4,"r":"Positive"},
{"p":16,"t":0.4,"v":0,"r":"Negative"},{"p":16,"t":17,"v":0,"r":"Negative"},{"p":16,"t":18,"v":0,"r":"Negative"},{"p":16,"t":19,"v":0,"r":"Negative"},{"p":16,"t":20,"v":0,"r":"Negative"},
{"p":16,"t":1.4,"v":5.7,"r":"Positive"},{"p":16,"t":2.4,"v":13,"r":"Positive"},{"p":16,"t":3.5,"v":15.2,"r":"Positive"},{"p":16,"t":4.6,"v":15.6,"r":"Positive"},{"p":16,"t":5.4,"v":15.2,"r":"Positive"},{"p":16,"t":6.4,"v":14.9,"r":"Positive"},{"p":16,"t":7.4,"v":12.1,"r":"Positive"},{"p":16,"t":8.5,"v":10.8,"r":"Positive"},{"p":16,"t":9.4,"v":9.2,"r":"Positive"},{"p":16,"t":10.4,"v":7.3,"r":"Positive"},{"p":16,"t":11.5,"v":5.4,"r":"Positive"},{"p":16,"t":12.6,"v":4.4,"r":"Positive"},{"p":16,"t":13.6,"v":5.7,"r":"Positive"},{"p":16,"t":14.5,"v":4.4,"r":"Positive"},{"p":16,"t":15.5,"v":3.8,"r":"Positive"},{"p":16,"t":16.6,"v":2.9,"r":"Positive"},
{"p":17,"t":14.5,"v":0,"r":"Negative"},{"p":17,"t":19.5,"v":0,"r":"Negative"},
{"p":17,"t":0.7,"v":2.5,"r":"Positive"},{"p":17,"t":1.5,"v":7,"r":"Positive"},{"p":17,"t":2.6,"v":9.5,"r":"Positive"},{"p":17,"t":3.7,"v":13.3,"r":"Positive"},{"p":17,"t":4.7,"v":14.6,"r":"Positive"},{"p":17,"t":5.8,"v":15.9,"r":"Positive"},{"p":17,"t":6.6,"v":7.9,"r":"Positive"},{"p":17,"t":7.9,"v":11.4,"r":"Positive"},{"p":17,"t":8.8,"v":9.8,"r":"Positive"},{"p":17,"t":9.8,"v":8.3,"r":"Positive"},{"p":17,"t":10.9,"v":7.3,"r":"Positive"},{"p":17,"t":12,"v":7,"r":"Positive"},{"p":17,"t":12.7,"v":4.8,"r":"Positive"},{"p":17,"t":13.8,"v":9.5,"r":"Positive"},{"p":17,"t":15.9,"v":7.3,"r":"Positive"},{"p":17,"t":17,"v":6,"r":"Positive"},{"p":17,"t":18,"v":4.1,"r":"Positive"},{"p":17,"t":18.9,"v":5.4,"r":"Positive"},
{"p":18,"t":0,"v":0,"r":"Negative"},{"p":18,"t":0.8,"v":0,"r":"Negative"},
{"p":18,"t":2.7,"v":2.5,"r":"Positive"},{"p":18,"t":3.8,"v":4.1,"r":"Positive"},{"p":18,"t":4.9,"v":7.3,"r":"Positive"},{"p":18,"t":6,"v":2.5,"r":"Positive"},{"p":18,"t":6.8,"v":4.1,"r":"Positive"},{"p":18,"t":8.1,"v":7.9,"r":"Positive"},{"p":18,"t":9.1,"v":9.2,"r":"Positive"},{"p":18,"t":10.4,"v":11.7,"r":"Positive"},{"p":18,"t":11.5,"v":12.1,"r":"Positive"},{"p":18,"t":13.6,"v":6.7,"r":"Positive"},
{"p":19,"t":0,"v":0,"r":"Negative"},{"p":19,"t":1,"v":0,"r":"Negative"},{"p":19,"t":2,"v":0,"r":"Negative"},{"p":19,"t":3,"v":0,"r":"Negative"},
{"p":19,"t":3.9,"v":7.8,"r":"Positive"},{"p":19,"t":5,"v":9.4,"r":"Positive"},{"p":19,"t":6.1,"v":9,"r":"Positive"},{"p":19,"t":7.1,"v":11.6,"r":"Positive"},{"p":19,"t":8.1,"v":11.3,"r":"Positive"},{"p":19,"t":9.1,"v":13.2,"r":"Positive"},{"p":19,"t":10.2,"v":11.6,"r":"Positive"},{"p":19,"t":11.3,"v":6.8,"r":"Positive"},{"p":19,"t":12.7,"v":2.7,"r":"Positive"},
{"p":20,"t":14.3,"v":0,"r":"Negative"},{"p":20,"t":19.2,"v":0,"r":"Negative"},
{"p":20,"t":0.2,"v":7.8,"r":"Positive"},{"p":20,"t":1.1,"v":9.4,"r":"Positive"},{"p":20,"t":2.2,"v":11.6,"r":"Positive"},{"p":20,"t":3.2,"v":17.9,"r":"Positive"},{"p":20,"t":4.1,"v":15.7,"r":"Positive"},{"p":20,"t":5.4,"v":12.2,"r":"Positive"},{"p":20,"t":6.4,"v":12.5,"r":"Positive"},{"p":20,"t":7.7,"v":13.2,"r":"Positive"},{"p":20,"t":9.3,"v":9,"r":"Positive"},{"p":20,"t":10.4,"v":10.3,"r":"Positive"},{"p":20,"t":11.2,"v":10.6,"r":"Positive"},{"p":20,"t":12.3,"v":10.6,"r":"Positive"},{"p":20,"t":13.5,"v":11.6,"r":"Positive"},{"p":20,"t":15.5,"v":11.2,"r":"Positive"},{"p":20,"t":16.8,"v":9,"r":"Positive"},{"p":20,"t":18.1,"v":10.3,"r":"Positive"},{"p":20,"t":20.4,"v":2,"r":"Positive"},
{"p":21,"t":11.5,"v":0,"r":"Negative"},{"p":21,"t":12.5,"v":0,"r":"Negative"},{"p":21,"t":13.5,"v":0,"r":"Negative"},
{"p":21,"t":0.4,"v":6.5,"r":"Positive"},{"p":21,"t":1.4,"v":9.4,"r":"Positive"},{"p":21,"t":2.3,"v":10.6,"r":"Positive"},{"p":21,"t":3.4,"v":12.8,"r":"Positive"},{"p":21,"t":4.4,"v":14.1,"r":"Positive"},{"p":21,"t":5.3,"v":11.6,"r":"Positive"},{"p":21,"t":6.4,"v":10.6,"r":"Positive"},{"p":21,"t":7.4,"v":7.8,"r":"Positive"},{"p":21,"t":8.5,"v":5.6,"r":"Positive"},{"p":21,"t":9.4,"v":8.7,"r":"Positive"},{"p":21,"t":10.5,"v":3.3,"r":"Positive"},
{"p":22,"t":0,"v":0,"r":"Negative"},{"p":22,"t":0.9,"v":0,"r":"Negative"},{"p":22,"t":1.8,"v":0,"r":"Negative"},{"p":22,"t":2.7,"v":0,"r":"Negative"},{"p":22,"t":3.5,"v":0,"r":"Negative"},{"p":22,"t":5.2,"v":0,"r":"Negative"},
{"p":22,"t":4.4,"v":0.2,"r":"Positive"},{"p":22,"t":6.5,"v":6.2,"r":"Positive"},{"p":22,"t":7.4,"v":3.3,"r":"Positive"},{"p":22,"t":8.5,"v":3.3,"r":"Positive"},{"p":22,"t":9.7,"v":9,"r":"Positive"},{"p":22,"t":10.6,"v":14.1,"r":"Positive"},{"p":22,"t":11.5,"v":16.7,"r":"Positive"},{"p":22,"t":12.8,"v":12.5,"r":"Positive"},{"p":22,"t":13.7,"v":7.5,"r":"Positive"},
{"p":23,"t":0,"v":0,"r":"Negative"},{"p":23,"t":1,"v":0,"r":"Negative"},{"p":23,"t":2,"v":0,"r":"Negative"},{"p":23,"t":3,"v":0,"r":"Negative"},{"p":23,"t":4,"v":0,"r":"Negative"},{"p":23,"t":5,"v":0,"r":"Negative"},{"p":23,"t":6,"v":0,"r":"Negative"},{"p":23,"t":7,"v":0,"r":"Negative"},{"p":23,"t":8,"v":0,"r":"Negative"},{"p":23,"t":9,"v":0,"r":"Negative"},
{"p":23,"t":10.5,"v":4.7,"r":"Positive"},{"p":23,"t":11.5,"v":0.2,"r":"Positive"},{"p":23,"t":12.3,"v":3.6,"r":"Positive"},{"p":23,"t":13.4,"v":3.6,"r":"Positive"},
{"p":24,"t":10.7,"v":0,"r":"Negative"},{"p":24,"t":11.7,"v":0,"r":"Negative"},{"p":24,"t":12.7,"v":0,"r":"Negative"},{"p":24,"t":13.7,"v":0,"r":"Negative"},
{"p":24,"t":0.8,"v":6.2,"r":"Positive"},{"p":24,"t":1.9,"v":10,"r":"Positive"},{"p":24,"t":2.7,"v":9,"r":"Positive"},{"p":24,"t":3.8,"v":13.5,"r":"Positive"},{"p":24,"t":4.9,"v":14.7,"r":"Positive"},{"p":24,"t":5.9,"v":15.1,"r":"Positive"},{"p":24,"t":6.8,"v":11.3,"r":"Positive"},{"p":24,"t":7.8,"v":10.3,"r":"Positive"},{"p":24,"t":8.6,"v":7.5,"r":"Positive"},{"p":24,"t":9.7,"v":6.2,"r":"Positive"},
{"p":25,"t":0,"v":0,"r":"Negative"},{"p":25,"t":1,"v":0,"r":"Negative"},{"p":25,"t":2,"v":0,"r":"Negative"},{"p":25,"t":2.8,"v":0,"r":"Negative"},
{"p":25,"t":3.9,"v":7.6,"r":"Positive"},{"p":25,"t":5.2,"v":13.6,"r":"Positive"},{"p":25,"t":6.3,"v":17.1,"r":"Positive"},{"p":25,"t":7.1,"v":16.5,"r":"Positive"},{"p":25,"t":8.1,"v":16.2,"r":"Positive"},{"p":25,"t":9.1,"v":15.9,"r":"Positive"},{"p":25,"t":10.2,"v":15.5,"r":"Positive"},{"p":25,"t":11.3,"v":15.9,"r":"Positive"},{"p":25,"t":12.1,"v":14.6,"r":"Positive"},{"p":25,"t":13,"v":11.7,"r":"Positive"},
{"p":26,"t":0,"v":0,"r":"Negative"},{"p":26,"t":1,"v":0,"r":"Negative"},{"p":26,"t":2,"v":0,"r":"Negative"},{"p":26,"t":3,"v":0,"r":"Negative"},{"p":26,"t":4,"v":0,"r":"Negative"},{"p":26,"t":5,"v":0,"r":"Negative"},{"p":26,"t":6,"v":0,"r":"Negative"},{"p":26,"t":7,"v":0,"r":"Negative"},
{"p":26,"t":8.2,"v":7.6,"r":"Positive"},{"p":26,"t":9.3,"v":16.2,"r":"Positive"},{"p":26,"t":10.1,"v":15.2,"r":"Positive"},{"p":26,"t":11.2,"v":13.3,"r":"Positive"},{"p":26,"t":12.3,"v":10.8,"r":"Positive"},{"p":26,"t":13.1,"v":10.8,"r":"Positive"},
{"p":27,"t":0,"v":0,"r":"Negative"},{"p":27,"t":1,"v":0,"r":"Negative"},{"p":27,"t":2,"v":0,"r":"Negative"},{"p":27,"t":3,"v":0,"r":"Negative"},{"p":27,"t":4,"v":0,"r":"Negative"},{"p":27,"t":5,"v":0,"r":"Negative"},{"p":27,"t":6,"v":0,"r":"Negative"},{"p":27,"t":7,"v":0,"r":"Negative"},
{"p":27,"t":8.5,"v":6,"r":"Positive"},{"p":27,"t":9.5,"v":9.8,"r":"Positive"},{"p":27,"t":10.5,"v":16.2,"r":"Positive"},{"p":27,"t":11.3,"v":16.2,"r":"Positive"},{"p":27,"t":12.4,"v":14.6,"r":"Positive"},{"p":27,"t":13.5,"v":10.5,"r":"Positive"},
{"p":28,"t":0.4,"v":4.4,"r":"Positive"},{"p":28,"t":1.6,"v":14,"r":"Positive"},{"p":28,"t":2.4,"v":15.2,"r":"Positive"},{"p":28,"t":3.5,"v":14.6,"r":"Positive"},{"p":28,"t":4.6,"v":15.6,"r":"Positive"},{"p":28,"t":5.4,"v":17.9,"r":"Positive"},{"p":28,"t":6.4,"v":16,"r":"Positive"},{"p":28,"t":7.2,"v":15.6,"r":"Positive"},{"p":28,"t":8.5,"v":12.9,"r":"Positive"},{"p":28,"t":9.4,"v":10.8,"r":"Positive"},{"p":28,"t":10.2,"v":10.1,"r":"Positive"},{"p":28,"t":11.5,"v":7.3,"r":"Positive"},{"p":28,"t":12.6,"v":4.7,"r":"Positive"},{"p":28,"t":13.1,"v":3.5,"r":"Positive"},{"p":28,"t":13.6,"v":1.9,"r":"Positive"},
{"p":29,"t":0,"v":0,"r":"Negative"},{"p":29,"t":1,"v":0,"r":"Negative"},{"p":29,"t":2,"v":0,"r":"Negative"},{"p":29,"t":3,"v":0,"r":"Negative"},
{"p":29,"t":4.7,"v":7.9,"r":"Positive"},{"p":29,"t":5.8,"v":7,"r":"Positive"},{"p":29,"t":6.6,"v":11.4,"r":"Positive"},{"p":29,"t":7.7,"v":11.7,"r":"Positive"},{"p":29,"t":8.8,"v":14.9,"r":"Positive"},{"p":29,"t":9.8,"v":17.8,"r":"Positive"},{"p":29,"t":10.9,"v":14.6,"r":"Positive"},{"p":29,"t":11.9,"v":12,"r":"Positive"},{"p":29,"t":13,"v":7.9,"r":"Positive"},{"p":29,"t":13.7,"v":5.7,"r":"Positive"},
{"p":30,"t":0,"v":0,"r":"Negative"},{"p":30,"t":1,"v":0,"r":"Negative"},{"p":30,"t":2,"v":0,"r":"Negative"},{"p":30,"t":3,"v":0,"r":"Negative"},
{"p":30,"t":4.9,"v":8.6,"r":"Positive"},{"p":30,"t":5.9,"v":17.1,"r":"Positive"},{"p":30,"t":7,"v":17.1,"r":"Positive"},{"p":30,"t":7.8,"v":17.4,"r":"Positive"},{"p":30,"t":8.9,"v":14.3,"r":"Positive"},{"p":30,"t":9.9,"v":12.7,"r":"Positive"},{"p":30,"t":11,"v":12.7,"r":"Positive"},{"p":30,"t":11.9,"v":13,"r":"Positive"},{"p":30,"t":12.8,"v":9.8,"r":"Positive"},{"p":30,"t":13.9,"v":4.4,"r":"Positive"},
{"p":31,"t":12.1,"v":0,"r":"Negative"},
{"p":31,"t":0.1,"v":7.1,"r":"Positive"},{"p":31,"t":1,"v":10.3,"r":"Positive"},{"p":31,"t":2.2,"v":16.6,"r":"Positive"},{"p":31,"t":3.1,"v":14.7,"r":"Positive"},{"p":31,"t":4.1,"v":12.5,"r":"Positive"},{"p":31,"t":5,"v":11.9,"r":"Positive"},{"p":31,"t":6.3,"v":6.5,"r":"Positive"},{"p":31,"t":7.1,"v":9,"r":"Positive"},{"p":31,"t":8.1,"v":8.1,"r":"Positive"},{"p":31,"t":9.1,"v":7.1,"r":"Positive"},{"p":31,"t":10.2,"v":6.5,"r":"Positive"},{"p":31,"t":11.3,"v":5.5,"r":"Positive"},{"p":31,"t":13,"v":4.3,"r":"Positive"},
{"p":32,"t":0,"v":0,"r":"Negative"},{"p":32,"t":1,"v":0,"r":"Negative"},{"p":32,"t":2,"v":0,"r":"Negative"},{"p":32,"t":3,"v":0,"r":"Negative"},{"p":32,"t":4,"v":0,"r":"Negative"},{"p":32,"t":5,"v":0,"r":"Negative"},{"p":32,"t":6,"v":0,"r":"Negative"},
{"p":32,"t":7.5,"v":8.7,"r":"Positive"},{"p":32,"t":8.2,"v":9.3,"r":"Positive"},{"p":32,"t":9.3,"v":10.6,"r":"Positive"},{"p":32,"t":10.4,"v":13.1,"r":"Positive"},{"p":32,"t":11.2,"v":16,"r":"Positive"},{"p":32,"t":12.3,"v":16,"r":"Positive"},{"p":32,"t":13.4,"v":14.1,"r":"Positive"},
{"p":33,"t":0.2,"v":0,"r":"Negative"},
{"p":33,"t":1.3,"v":7.1,"r":"Positive"},{"p":33,"t":2.3,"v":1.1,"r":"Positive"},{"p":33,"t":3.4,"v":8.1,"r":"Positive"},{"p":33,"t":4.2,"v":9.7,"r":"Positive"},{"p":33,"t":5.3,"v":14.4,"r":"Positive"},{"p":33,"t":6.4,"v":16,"r":"Positive"},{"p":33,"t":7.4,"v":16.6,"r":"Positive"},{"p":33,"t":8.5,"v":16,"r":"Positive"},{"p":33,"t":9.4,"v":14.4,"r":"Positive"},{"p":33,"t":10.5,"v":10.9,"r":"Positive"},{"p":33,"t":11.3,"v":11.9,"r":"Positive"},{"p":33,"t":12.4,"v":6.5,"r":"Positive"},{"p":33,"t":13.5,"v":5.5,"r":"Positive"},
{"p":34,"t":0.4,"v":0,"r":"Negative"},
{"p":34,"t":1.5,"v":3.9,"r":"Positive"},{"p":34,"t":2.4,"v":11.6,"r":"Positive"},{"p":34,"t":3.5,"v":14.7,"r":"Positive"},{"p":34,"t":4.6,"v":15.4,"r":"Positive"},{"p":34,"t":5.4,"v":16,"r":"Positive"},{"p":34,"t":6.4,"v":15.4,"r":"Positive"},{"p":34,"t":7.4,"v":12.5,"r":"Positive"},{"p":34,"t":8.5,"v":11.2,"r":"Positive"},{"p":34,"t":9.4,"v":10.3,"r":"Positive"},{"p":34,"t":10.4,"v":8.1,"r":"Positive"},{"p":34,"t":11.5,"v":3,"r":"Positive"},{"p":34,"t":12.6,"v":4.3,"r":"Positive"},
{"p":35,"t":0,"v":0,"r":"Negative"},{"p":35,"t":1,"v":0,"r":"Negative"},{"p":35,"t":10,"v":0,"r":"Negative"},{"p":35,"t":11,"v":0,"r":"Negative"},{"p":35,"t":12,"v":0,"r":"Negative"},{"p":35,"t":13,"v":0,"r":"Negative"},
{"p":35,"t":2.6,"v":7.1,"r":"Positive"},{"p":35,"t":3.7,"v":13.8,"r":"Positive"},{"p":35,"t":4.7,"v":13.5,"r":"Positive"},{"p":35,"t":5.8,"v":16.3,"r":"Positive"},{"p":35,"t":6.6,"v":11.6,"r":"Positive"},{"p":35,"t":7.9,"v":8.1,"r":"Positive"},{"p":35,"t":9,"v":9,"r":"Positive"},{"p":35,"t":9.8,"v":8.7,"r":"Positive"},
{"p":36,"t":0.8,"v":7.7,"r":"Positive"},{"p":36,"t":1.9,"v":10.9,"r":"Positive"},{"p":36,"t":2.7,"v":12.5,"r":"Positive"},{"p":36,"t":3.8,"v":15.7,"r":"Positive"},{"p":36,"t":4.9,"v":14.7,"r":"Positive"},{"p":36,"t":5.7,"v":14.4,"r":"Positive"},{"p":36,"t":6.8,"v":12.5,"r":"Positive"},{"p":36,"t":10,"v":9.7,"r":"Positive"},
{"p":37,"t":0,"v":0,"r":"Negative"},
{"p":37,"t":1,"v":7.4,"r":"Positive"},{"p":37,"t":2.2,"v":13.1,"r":"Positive"},{"p":37,"t":3.3,"v":13.1,"r":"Positive"},{"p":37,"t":4.4,"v":14.1,"r":"Positive"},{"p":37,"t":5.4,"v":14.1,"r":"Positive"},{"p":37,"t":6.3,"v":12.2,"r":"Positive"},{"p":37,"t":7.3,"v":10.9,"r":"Positive"},{"p":37,"t":8.4,"v":11.8,"r":"Positive"},{"p":37,"t":9.1,"v":10.3,"r":"Positive"},{"p":37,"t":10.2,"v":11.5,"r":"Positive"},{"p":37,"t":11.3,"v":9,"r":"Positive"},{"p":37,"t":12.1,"v":12.2,"r":"Positive"},{"p":37,"t":13.2,"v":6.1,"r":"Positive"},
{"p":38,"t":0,"v":0,"r":"Negative"},{"p":38,"t":0.7,"v":0,"r":"Negative"},
{"p":38,"t":2.2,"v":16,"r":"Positive"},{"p":38,"t":3.2,"v":14.1,"r":"Positive"},{"p":38,"t":4.1,"v":13.1,"r":"Positive"},{"p":38,"t":5.1,"v":15.3,"r":"Positive"},{"p":38,"t":6.2,"v":13.4,"r":"Positive"},{"p":38,"t":7.3,"v":10.9,"r":"Positive"},{"p":38,"t":8.2,"v":9,"r":"Positive"},{"p":38,"t":9.1,"v":9.9,"r":"Positive"},
{"p":39,"t":12.5,"v":0,"r":"Negative"},{"p":39,"t":13.3,"v":0,"r":"Negative"},
{"p":39,"t":0.2,"v":3.3,"r":"Positive"},{"p":39,"t":0.9,"v":3.6,"r":"Positive"},{"p":39,"t":2.3,"v":3.3,"r":"Positive"},{"p":39,"t":3.4,"v":9.3,"r":"Positive"},{"p":39,"t":4.4,"v":11.2,"r":"Positive"},{"p":39,"t":5.5,"v":12.5,"r":"Positive"},{"p":39,"t":6.4,"v":13.4,"r":"Positive"},{"p":39,"t":7.4,"v":13.1,"r":"Positive"},{"p":39,"t":8.2,"v":12.2,"r":"Positive"},{"p":39,"t":9.4,"v":9.3,"r":"Positive"},{"p":39,"t":10.3,"v":3.3,"r":"Positive"},{"p":39,"t":11.3,"v":3,"r":"Positive"},
{"p":40,"t":0.4,"v":1.4,"r":"Positive"},{"p":40,"t":1.5,"v":6.1,"r":"Positive"},{"p":40,"t":2.4,"v":11.5,"r":"Positive"},{"p":40,"t":3.5,"v":15.3,"r":"Positive"},{"p":40,"t":4.6,"v":15.7,"r":"Positive"},{"p":40,"t":5.4,"v":16.9,"r":"Positive"},{"p":40,"t":6.7,"v":12.8,"r":"Positive"},{"p":40,"t":7.6,"v":9,"r":"Positive"},{"p":40,"t":8.5,"v":12.2,"r":"Positive"},{"p":40,"t":9.7,"v":7.7,"r":"Positive"},{"p":40,"t":10.7,"v":4.5,"r":"Positive"},{"p":40,"t":11.5,"v":8.3,"r":"Positive"},{"p":40,"t":12.6,"v":1.4,"r":"Positive"},{"p":40,"t":13.6,"v":4.5,"r":"Positive"},
{"p":41,"t":0,"v":0,"r":"Negative"},{"p":41,"t":1,"v":0,"r":"Negative"},{"p":41,"t":2,"v":0,"r":"Negative"},{"p":41,"t":3,"v":0,"r":"Negative"},{"p":41,"t":4,"v":0,"r":"Negative"},{"p":41,"t":5,"v":0,"r":"Negative"},
{"p":41,"t":6.6,"v":10.6,"r":"Positive"},{"p":41,"t":7.7,"v":12.8,"r":"Positive"},{"p":41,"t":8.8,"v":16.9,"r":"Positive"},{"p":41,"t":9.8,"v":14.1,"r":"Positive"},{"p":41,"t":10.9,"v":13.4,"r":"Positive"},{"p":41,"t":11.9,"v":12.2,"r":"Positive"},{"p":41,"t":13,"v":9.6,"r":"Positive"},{"p":41,"t":13.7,"v":9.3,"r":"Positive"},
{"p":42,"t":0,"v":0,"r":"Negative"},{"p":42,"t":1,"v":0,"r":"Negative"},{"p":42,"t":2,"v":0,"r":"Negative"},
{"p":42,"t":3.8,"v":3,"r":"Positive"},{"p":42,"t":4.9,"v":4.2,"r":"Positive"},{"p":42,"t":5.9,"v":9.9,"r":"Positive"},{"p":42,"t":6.8,"v":14.7,"r":"Positive"},{"p":42,"t":7.8,"v":13.1,"r":"Positive"},{"p":42,"t":8.9,"v":11.2,"r":"Positive"},{"p":42,"t":10,"v":8,"r":"Positive"},{"p":42,"t":11,"v":6.8,"r":"Positive"},{"p":42,"t":11.9,"v":5.5,"r":"Positive"},{"p":42,"t":12.8,"v":4.2,"r":"Positive"},{"p":42,"t":13.9,"v":3,"r":"Positive"},
{"p":43,"t":3.1,"v":0,"r":"Negative"},{"p":43,"t":11,"v":0,"r":"Negative"},{"p":43,"t":12,"v":0,"r":"Negative"},{"p":43,"t":13,"v":0,"r":"Negative"},
{"p":43,"t":0.1,"v":6.1,"r":"Positive"},{"p":43,"t":1,"v":3.6,"r":"Positive"},{"p":43,"t":1.8,"v":3.6,"r":"Positive"},{"p":43,"t":4.1,"v":12.4,"r":"Positive"},{"p":43,"t":5,"v":7.4,"r":"Positive"},{"p":43,"t":6.3,"v":13.7,"r":"Positive"},{"p":43,"t":7.1,"v":13.7,"r":"Positive"},{"p":43,"t":8.1,"v":13.1,"r":"Positive"},{"p":43,"t":9.1,"v":9,"r":"Positive"},{"p":43,"t":10.2,"v":4.5,"r":"Positive"},
{"p":44,"t":0,"v":0,"r":"Negative"},{"p":44,"t":0.8,"v":0,"r":"Negative"},
{"p":44,"t":2.2,"v":6.1,"r":"Positive"},{"p":44,"t":3.2,"v":11.2,"r":"Positive"},{"p":44,"t":4.3,"v":14.3,"r":"Positive"},{"p":44,"t":5.3,"v":10.2,"r":"Positive"},{"p":44,"t":6.2,"v":8.3,"r":"Positive"},{"p":44,"t":7.3,"v":4.2,"r":"Positive"},{"p":44,"t":8.2,"v":9.9,"r":"Positive"},{"p":44,"t":9.1,"v":9.3,"r":"Positive"},{"p":44,"t":10.2,"v":9.6,"r":"Positive"},{"p":44,"t":11.2,"v":9.3,"r":"Positive"},{"p":44,"t":12.3,"v":4.5,"r":"Positive"},{"p":44,"t":13.4,"v":8,"r":"Positive"},
{"p":45,"t":0.4,"v":0,"r":"Negative"},
{"p":45,"t":1.3,"v":9,"r":"Positive"},{"p":45,"t":2.3,"v":9,"r":"Positive"},{"p":45,"t":3.4,"v":14,"r":"Positive"},{"p":45,"t":4.4,"v":16.9,"r":"Positive"},{"p":45,"t":5.5,"v":9.9,"r":"Positive"},{"p":45,"t":6.4,"v":9.3,"r":"Positive"},{"p":45,"t":7.4,"v":12.4,"r":"Positive"},{"p":45,"t":8.5,"v":11.2,"r":"Positive"},{"p":45,"t":9.4,"v":9.9,"r":"Positive"},{"p":45,"t":10.5,"v":5.8,"r":"Positive"},{"p":45,"t":11.3,"v":4.5,"r":"Positive"},{"p":45,"t":12.4,"v":3.6,"r":"Positive"},{"p":45,"t":13.5,"v":3.9,"r":"Positive"},
{"p":46,"t":10.6,"v":0,"r":"Negative"},{"p":46,"t":13.6,"v":0,"r":"Negative"},
{"p":46,"t":0.4,"v":6.7,"r":"Positive"},{"p":46,"t":1.4,"v":9.3,"r":"Positive"},{"p":46,"t":2.4,"v":11.8,"r":"Positive"},{"p":46,"t":3.5,"v":12.8,"r":"Positive"},{"p":46,"t":4.6,"v":17.2,"r":"Positive"},{"p":46,"t":5.6,"v":16.6,"r":"Positive"},{"p":46,"t":6.7,"v":15.6,"r":"Positive"},{"p":46,"t":7.6,"v":11.2,"r":"Positive"},{"p":46,"t":8.5,"v":9.9,"r":"Positive"},{"p":46,"t":9.6,"v":7.4,"r":"Positive"},{"p":46,"t":11.5,"v":5.5,"r":"Positive"},{"p":46,"t":12.6,"v":4.8,"r":"Positive"},
{"p":47,"t":0.7,"v":2.9,"r":"Positive"},{"p":47,"t":1.7,"v":8,"r":"Positive"},{"p":47,"t":2.8,"v":13.7,"r":"Positive"},{"p":47,"t":3.7,"v":16.6,"r":"Positive"},{"p":47,"t":4.7,"v":17.2,"r":"Positive"},{"p":47,"t":5.6,"v":16.9,"r":"Positive"},{"p":47,"t":6.6,"v":15.6,"r":"Positive"},{"p":47,"t":7.7,"v":13.4,"r":"Positive"},{"p":47,"t":8.8,"v":10.2,"r":"Positive"},{"p":47,"t":9.8,"v":8,"r":"Positive"},{"p":47,"t":10.9,"v":5.8,"r":"Positive"},{"p":47,"t":11.9,"v":7,"r":"Positive"},{"p":47,"t":13,"v":4.2,"r":"Positive"},{"p":47,"t":13.7,"v":7,"r":"Positive"},
{"p":48,"t":0,"v":0,"r":"Negative"},{"p":48,"t":1,"v":0,"r":"Negative"},{"p":48,"t":12.5,"v":0,"r":"Negative"},
{"p":48,"t":2.9,"v":9.9,"r":"Positive"},{"p":48,"t":4,"v":11.5,"r":"Positive"},{"p":48,"t":4.9,"v":12.4,"r":"Positive"},{"p":48,"t":5.9,"v":13.4,"r":"Positive"},{"p":48,"t":6.8,"v":14.7,"r":"Positive"},{"p":48,"t":7.8,"v":11.5,"r":"Positive"},{"p":48,"t":8.9,"v":9.6,"r":"Positive"},{"p":48,"t":10,"v":6.1,"r":"Positive"},{"p":48,"t":11,"v":4.8,"r":"Positive"},{"p":48,"t":11.9,"v":9.3,"r":"Positive"},{"p":48,"t":13.9,"v":1.7,"r":"Positive"},
{"p":49,"t":0,"v":0,"r":"Negative"},{"p":49,"t":11,"v":0,"r":"Negative"},{"p":49,"t":12,"v":0,"r":"Negative"},{"p":49,"t":13,"v":0,"r":"Negative"},
{"p":49,"t":1,"v":4.3,"r":"Positive"},{"p":49,"t":2,"v":6.2,"r":"Positive"},{"p":49,"t":3.1,"v":14.2,"r":"Positive"},{"p":49,"t":4.1,"v":16.4,"r":"Positive"},{"p":49,"t":5,"v":13.5,"r":"Positive"},{"p":49,"t":6.1,"v":12.3,"r":"Positive"},{"p":49,"t":7,"v":11.3,"r":"Positive"},{"p":49,"t":8.1,"v":9.4,"r":"Positive"},{"p":49,"t":9.1,"v":5.9,"r":"Positive"},{"p":49,"t":10.2,"v":12,"r":"Positive"},
{"p":50,"t":9.5,"v":0,"r":"Negative"},{"p":50,"t":10.5,"v":0,"r":"Negative"},{"p":50,"t":11.5,"v":0,"r":"Negative"},{"p":50,"t":12.5,"v":0,"r":"Negative"},
{"p":50,"t":0.2,"v":1.8,"r":"Positive"},{"p":50,"t":1.3,"v":4.3,"r":"Positive"},{"p":50,"t":2.2,"v":7.2,"r":"Positive"},{"p":50,"t":3.2,"v":10.7,"r":"Positive"},{"p":50,"t":4.3,"v":15.1,"r":"Positive"},{"p":50,"t":5.3,"v":15.5,"r":"Positive"},{"p":50,"t":6.2,"v":12.3,"r":"Positive"},{"p":50,"t":7.3,"v":6.9,"r":"Positive"},{"p":50,"t":8.2,"v":9.7,"r":"Positive"},{"p":50,"t":9.3,"v":7.8,"r":"Positive"},
{"p":51,"t":9.6,"v":0,"r":"Negative"},{"p":51,"t":10.6,"v":0,"r":"Negative"},{"p":51,"t":11.6,"v":0,"r":"Negative"},{"p":51,"t":12.6,"v":0,"r":"Negative"},{"p":51,"t":13.6,"v":0,"r":"Negative"},
{"p":51,"t":0.4,"v":5.9,"r":"Positive"},{"p":51,"t":1.2,"v":9.7,"r":"Positive"},{"p":51,"t":2.3,"v":14.2,"r":"Positive"},{"p":51,"t":3.4,"v":15.5,"r":"Positive"},{"p":51,"t":4.4,"v":9.7,"r":"Positive"},{"p":51,"t":5.3,"v":3.1,"r":"Positive"},{"p":51,"t":6.2,"v":3.1,"r":"Positive"},{"p":51,"t":7.2,"v":3.1,"r":"Positive"},{"p":51,"t":8.1,"v":3.1,"r":"Positive"},{"p":51,"t":8.9,"v":3.1,"r":"Positive"},
{"p":52,"t":0.4,"v":0,"r":"Negative"},{"p":52,"t":10.3,"v":0,"r":"Negative"},
{"p":52,"t":1.5,"v":3.7,"r":"Positive"},{"p":52,"t":2.4,"v":7.8,"r":"Positive"},{"p":52,"t":3.5,"v":12,"r":"Positive"},{"p":52,"t":4.6,"v":17,"r":"Positive"},{"p":52,"t":5.4,"v":14.8,"r":"Positive"},{"p":52,"t":6.5,"v":13.5,"r":"Positive"},{"p":52,"t":7.4,"v":12.6,"r":"Positive"},{"p":52,"t":8.5,"v":11.3,"r":"Positive"},{"p":52,"t":9.4,"v":9.7,"r":"Positive"},
{"p":53,"t":0,"v":0,"r":"Negative"},{"p":53,"t":1,"v":0,"r":"Negative"},{"p":53,"t":2,"v":0,"r":"Negative"},{"p":53,"t":3,"v":0,"r":"Negative"},
{"p":53,"t":4.9,"v":5.6,"r":"Positive"},{"p":53,"t":5.8,"v":6.2,"r":"Positive"},{"p":53,"t":6.6,"v":7.5,"r":"Positive"},{"p":53,"t":7.7,"v":10.4,"r":"Positive"},{"p":53,"t":8.8,"v":14.8,"r":"Positive"},{"p":53,"t":9.8,"v":15.1,"r":"Positive"},{"p":53,"t":10.9,"v":15.5,"r":"Positive"},{"p":53,"t":11.9,"v":16.4,"r":"Positive"},{"p":53,"t":13,"v":12.6,"r":"Positive"},{"p":53,"t":13.7,"v":10.4,"r":"Positive"},
{"p":54,"t":0.8,"v":0,"r":"Negative"},
{"p":54,"t":2.9,"v":10.1,"r":"Positive"},{"p":54,"t":4,"v":10.4,"r":"Positive"},{"p":54,"t":5.1,"v":17,"r":"Positive"},{"p":54,"t":5.9,"v":17.4,"r":"Positive"},{"p":54,"t":7,"v":16.4,"r":"Positive"},{"p":54,"t":7.8,"v":14.8,"r":"Positive"},{"p":54,"t":8.9,"v":16.1,"r":"Positive"},{"p":54,"t":10,"v":12.3,"r":"Positive"},{"p":54,"t":11,"v":8.5,"r":"Positive"},{"p":54,"t":11.9,"v":12,"r":"Positive"},{"p":54,"t":13,"v":7.2,"r":"Positive"},{"p":54,"t":13.9,"v":3.4,"r":"Positive"},
{"p":55,"t":0,"v":0,"r":"Negative"},{"p":55,"t":1.1,"v":0,"r":"Negative"},{"p":55,"t":2,"v":0,"r":"Negative"},{"p":55,"t":2.9,"v":0,"r":"Negative"},
{"p":55,"t":4.1,"v":13.5,"r":"Positive"},{"p":55,"t":5,"v":7.6,"r":"Positive"},{"p":55,"t":6.1,"v":11.3,"r":"Positive"},{"p":55,"t":7.1,"v":16.4,"r":"Positive"},{"p":55,"t":8.1,"v":14.8,"r":"Positive"},{"p":55,"t":9.1,"v":11.3,"r":"Positive"},{"p":55,"t":10.1,"v":9.4,"r":"Positive"},{"p":55,"t":11.1,"v":13.2,"r":"Positive"},{"p":55,"t":12.2,"v":5.9,"r":"Positive"},{"p":55,"t":13.2,"v":2.7,"r":"Positive"},
{"p":56,"t":0,"v":0,"r":"Negative"},{"p":56,"t":0.9,"v":0,"r":"Negative"},{"p":56,"t":2,"v":0,"r":"Negative"},{"p":56,"t":2.9,"v":0,"r":"Negative"},{"p":56,"t":7,"v":0,"r":"Negative"},{"p":56,"t":8.1,"v":0,"r":"Negative"},
{"p":56,"t":4.2,"v":13.5,"r":"Positive"},{"p":56,"t":5.2,"v":6.3,"r":"Positive"},{"p":56,"t":6.2,"v":2.1,"r":"Positive"},
{"p":57,"t":0,"v":0,"r":"Negative"},{"p":57,"t":1.1,"v":0,"r":"Negative"},{"p":57,"t":3.2,"v":0,"r":"Negative"},{"p":57,"t":4.2,"v":0,"r":"Negative"},
{"p":57,"t":5.4,"v":9.4,"r":"Positive"},{"p":57,"t":6.5,"v":12.5,"r":"Positive"},{"p":57,"t":7.4,"v":10,"r":"Positive"},{"p":57,"t":8.4,"v":16.1,"r":"Positive"},{"p":57,"t":9.4,"v":12.7,"r":"Positive"},{"p":57,"t":10.4,"v":5.3,"r":"Positive"},{"p":57,"t":11.4,"v":5.3,"r":"Positive"},{"p":57,"t":12.5,"v":10,"r":"Positive"},{"p":57,"t":13.4,"v":3.7,"r":"Positive"}
]},
"facet": {"field": "p", "type": "ordinal",
  "header": {"title": "Time since first test (days)", "titleOrient": "bottom", "titleFont": "DejaVu Sans", "titleFontSize": 46, "titleColor": "black", "titleFontWeight": "normal", "titlePadding": 8,
             "labelFont": "DejaVu Sans", "labelFontSize": 35, "labelColor": "#1A1A1A", "labelPadding": 17}},
"columns": 6,
"spacing": {"row": 42, "column": 23},
"spec": {
  "width": 248, "height": 113,
  "encoding": {
    "x": {"field": "t", "type": "quantitative", "scale": {"domain": [-2.1, 21.2], "nice": false, "zero": false},
          "axis": {"title": null, "values": [0,2.5,5,7.5,10,12.5,15,17.5,20], "format": "d", "labelExpr": "datum.value % 5 === 0 ? datum.label : ''", "labelOverlap": false, "ticks": false, "domain": false, "gridColor": "#EBEBEB", "gridWidth": {"condition": {"test": "datum.value % 5 === 0", "value": 3.5}, "value": 2}, "labelFont": "DejaVu Sans", "labelFontSize": 35, "labelColor": "#4D4D4D", "labelPadding": 20}}
  },
  "layer": [
    {"transform": [{"filter": "isValid(datum.m)"}],
     "mark": {"type": "area", "color": "#440154", "opacity": 1, "clip": true},
     "encoding": {"y": {"field": "lo", "type": "quantitative", "scale": {"domain": [-1, 21], "nice": false, "zero": false},
                        "axis": {"title": null, "values": [0,5,10,15,20], "labelExpr": "datum.value % 10 === 0 ? datum.label : ''", "labelOverlap": false, "ticks": false, "domain": false, "gridColor": "#EBEBEB", "gridWidth": {"condition": {"test": "datum.value % 10 === 0", "value": 3.5}, "value": 2}, "labelFont": "DejaVu Sans", "labelFontSize": 35, "labelColor": "#4D4D4D", "labelPadding": 20}},
                  "y2": {"field": "hi"}}},
    {"transform": [{"filter": "isValid(datum.m)"}],
     "mark": {"type": "line", "color": "black", "strokeWidth": 10, "clip": true},
     "encoding": {"y": {"field": "m", "type": "quantitative"}}},
    {"transform": [{"filter": "isValid(datum.r)"}],
     "mark": {"type": "circle", "size": 320, "opacity": 1, "clip": true},
     "encoding": {"y": {"field": "v", "type": "quantitative"},
                  "color": {"field": "r", "type": "nominal", "scale": {"domain": ["Negative", "Positive"], "range": ["#F8766D", "#00BFC4"]},
                            "legend": {"title": null, "orient": "none", "legendX": 570, "legendY": 2167, "direction": "horizontal", "labelFont": "DejaVu Sans", "labelFontSize": 35, "labelColor": "black", "symbolSize": 260, "symbolType": "circle", "labelOffset": 42, "columnPadding": 46}}}}
  ]
},
"title": {"text": "Log viral load", "orient": "left", "anchor": "middle", "offset": 10, "dx": 87, "font": "DejaVu Sans", "fontSize": 46, "fontWeight": "normal", "color": "black"},
"config": {"view": {"stroke": null}, "font": "DejaVu Sans"}
}
